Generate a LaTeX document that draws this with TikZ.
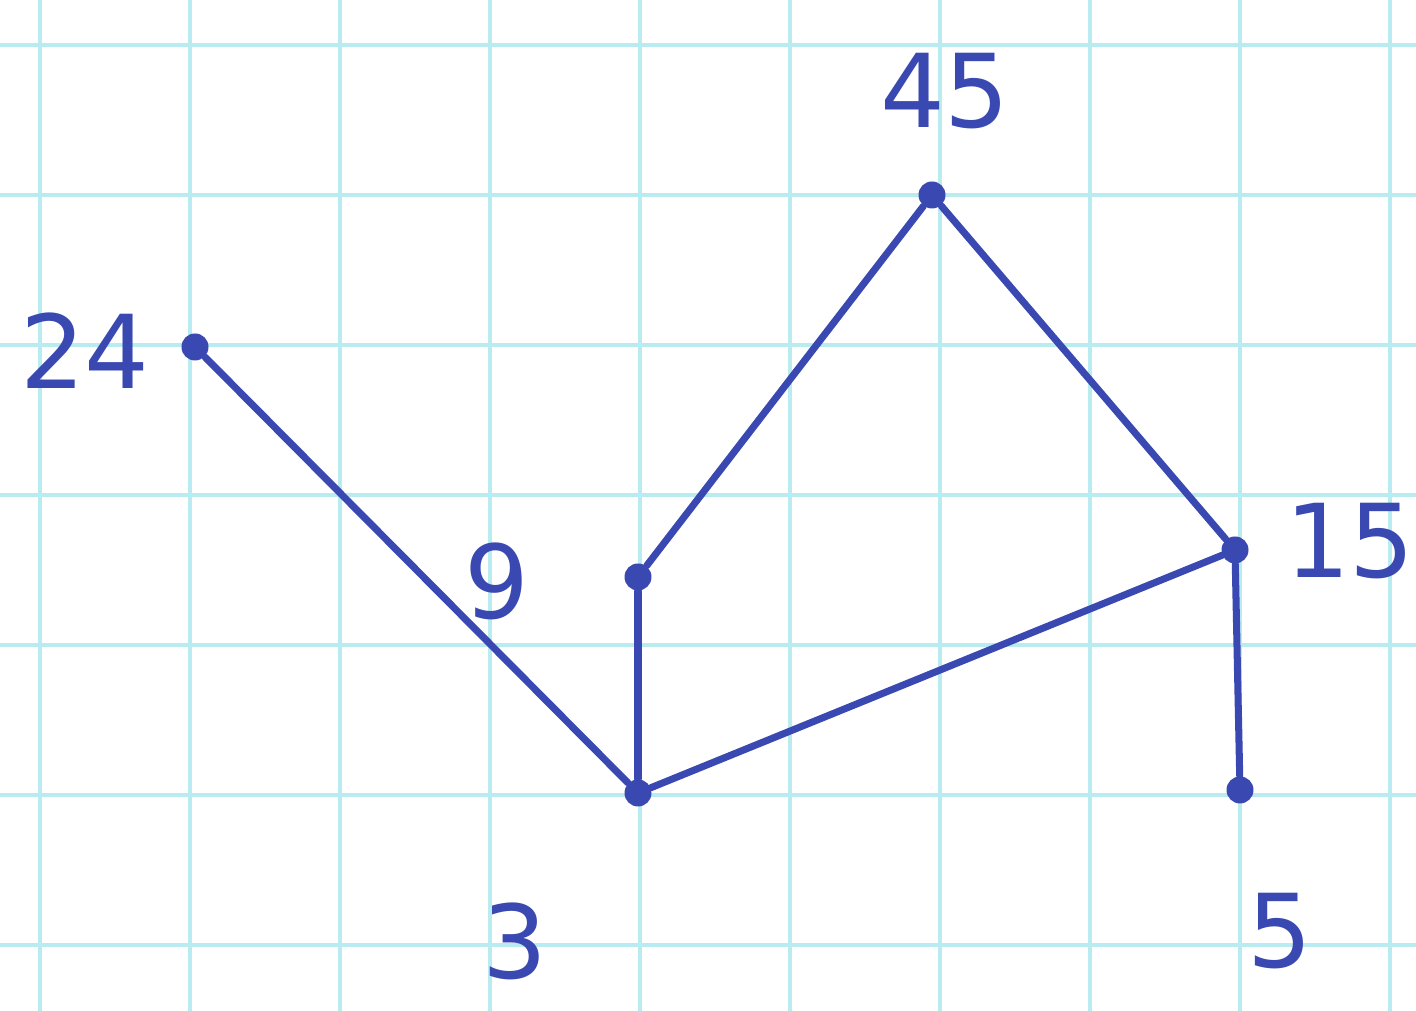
\documentclass[tikz,border=0pt]{standalone}
\usepackage{fontspec}
\setmainfont{DejaVu Sans}
\usetikzlibrary{positioning}
\definecolor{ink}{RGB}{58,72,178}
\definecolor{gridline}{RGB}{185,236,240}

\begin{document}
\begin{tikzpicture}[
    vertex/.style={circle, fill=ink, inner sep=0pt, minimum size=0.27cm},
    edge/.style={draw=ink, line width=2pt, line cap=round},
    numlabel/.style={text=ink, font=\fontsize{29}{34}\selectfont}
]

\useasboundingbox[fill=white] (0,0) rectangle (14.16,10.11);

% Grid
\foreach \x in {0.4,1.9,...,14.0}
    \draw[gridline, line width=1pt] (\x,0) -- (\x,10.11);
\foreach \y in {0.66,2.16,...,10.0}
    \draw[gridline, line width=1pt] (0,\y) -- (14.16,\y);

% Vertices
\node[vertex] (v24) at (1.95, 6.64) {};
\node[vertex] (v45) at (9.32, 8.16) {};
\node[vertex] (v9)  at (6.38, 4.34) {};
\node[vertex] (v3)  at (6.38, 2.18) {};
\node[vertex] (v15) at (12.35, 4.61) {};
\node[vertex] (v5)  at (12.40, 2.21) {};

% Labels
\node[numlabel] (l24) at (0.85, 6.60) {24};
\node[numlabel] (l45) at (9.45, 9.20) {45};
\node[numlabel] (l9)  at (4.97, 4.30) {9};
\node[numlabel] (l3)  at (5.15, 0.70) {3};
\node[numlabel] (l15) at (13.50, 4.70) {15};
\node[numlabel] (l5)  at (12.80, 0.80) {5};

% Edges
\draw[edge] (v24) -- (v3);
\draw[edge] (v9) -- (v3);
\draw[edge] (v9) -- (v45);
\draw[edge] (v45) -- (v15);
\draw[edge] (v15) -- (v3);
\draw[edge] (v15) -- (v5);

\end{tikzpicture}
\end{document}
